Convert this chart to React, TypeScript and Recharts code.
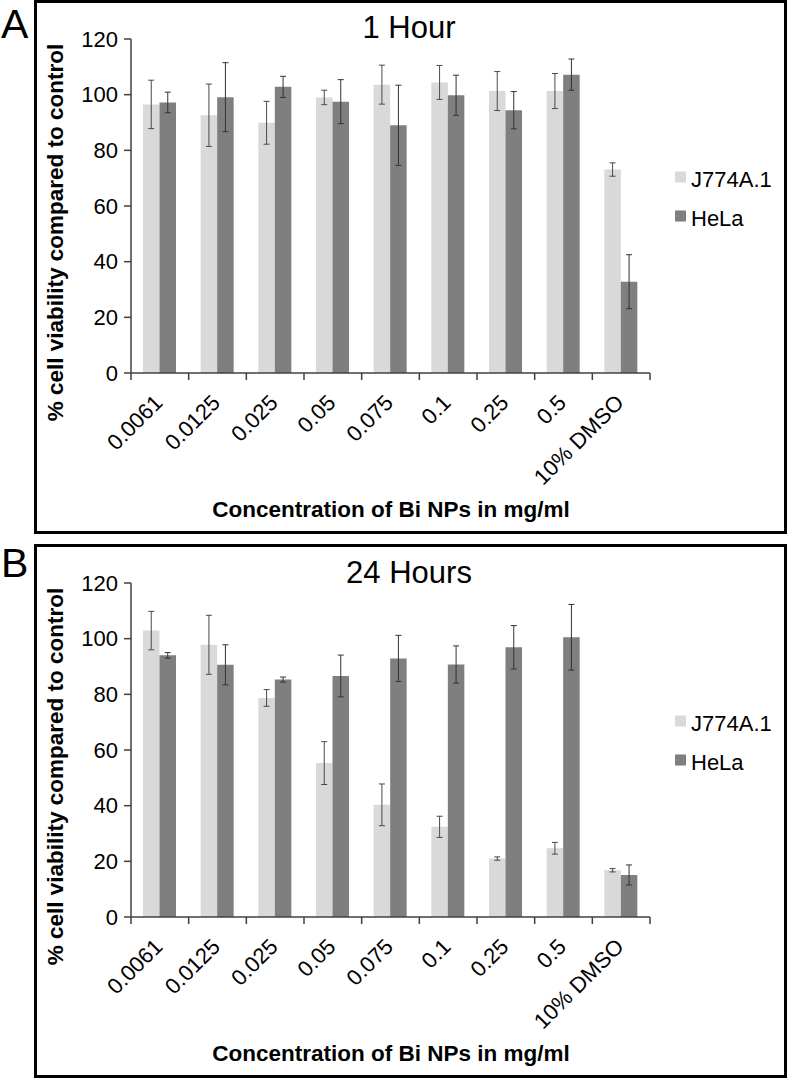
import React from 'react';
import { BarChart, Bar, XAxis, YAxis, ErrorBar } from 'recharts';

const categories = ['0.0061', '0.0125', '0.025', '0.05', '0.075', '0.1', '0.25', '0.5', '10% DMSO'];
const yTicks = [0, 20, 40, 60, 80, 100, 120];

const h1J774 = [96.5, 92.6, 89.9, 99.0, 103.6, 104.4, 101.3, 101.3, 73.1];
const h1J774Err = [8.7, 11.2, 7.7, 2.6, 7.0, 6.1, 7.0, 6.3, 2.4];
const h1HeLa = [97.2, 99.1, 102.8, 97.5, 89.0, 99.8, 94.4, 107.2, 32.8];
const h1HeLaErr = [3.7, 12.4, 3.8, 7.9, 14.4, 7.2, 6.7, 5.6, 9.7];

const h24J774 = [102.9, 97.8, 78.7, 55.3, 40.3, 32.4, 21.0, 24.7, 16.8];
const h24J774Err = [6.9, 10.6, 3.0, 7.7, 7.5, 3.8, 0.6, 2.1, 0.6];
const h24HeLa = [94.0, 90.6, 85.3, 86.6, 92.9, 90.7, 96.9, 100.5, 15.1];
const h24HeLaErr = [1.0, 7.2, 0.9, 7.5, 8.3, 6.7, 7.8, 11.8, 3.6];

const seriesNames = ['J774A.1', 'HeLa'];
const colors = ['#d9d9d9', '#7f7f7f'];

const FONT = '"Liberation Sans", Arial, Helvetica, sans-serif';
const AXIS = '#404040';
const CH_W = 791;
const CH_H = 540;
const PLOT_L = 131;
const PLOT_R = 650;
const PLOT_T = 39;
const PLOT_B = 373;
const PLOT_W = PLOT_R - PLOT_L;
const YW = 60;
const XH = 100;

const build = (a: number[], ae: number[], b: number[], be: number[]) =>
  categories.map((c, i) => ({ cat: c, j774: a[i], j774Err: ae[i], hela: b[i], helaErr: be[i] }));

const data1 = build(h1J774, h1J774Err, h1HeLa, h1HeLaErr);
const data24 = build(h24J774, h24J774Err, h24HeLa, h24HeLaErr);

const XTick = (props: any) => {
  const { x, y, payload, index } = props;
  const bw = PLOT_W / categories.length;
  const ax = x + 4;
  const ay = y + 31;
  return (
    <g>
      <line x1={x - bw / 2} y1={y} x2={x - bw / 2} y2={y + 7} stroke={AXIS} strokeWidth={1.5} />
      {index === categories.length - 1 && (
        <line x1={x + bw / 2} y1={y} x2={x + bw / 2} y2={y + 7} stroke={AXIS} strokeWidth={1.5} />
      )}
      <text
        x={ax}
        y={ay}
        transform={`rotate(-45 ${ax} ${ay})`}
        textAnchor="end"
        fontSize={22}
        fill="#000"
        fontFamily={FONT}
      >
        {payload.value}
      </text>
    </g>
  );
};

type PanelProps = {
  top: number;
  letter: string;
  letterBaseline: number;
  title: string;
  titleBaseline: number;
  data: any[];
};

const Panel = ({ top, letter, letterBaseline, title, titleBaseline, data }: PanelProps) => (
  <>
    <div
      style={{
        position: 'absolute',
        left: 34,
        top: top,
        width: 787 - 34,
        height: 534,
        border: '3px solid #000',
        boxSizing: 'border-box',
      }}
    />
    <div style={{ position: 'absolute', left: 0, top: top, width: CH_W, height: CH_H }}>
      <BarChart
        width={CH_W}
        height={CH_H}
        data={data}
        barGap={0}
        barSize={16.5}
        margin={{ top: PLOT_T, right: CH_W - PLOT_R, bottom: CH_H - PLOT_B - XH, left: PLOT_L - YW }}
      >
        <XAxis
          dataKey="cat"
          height={XH}
          interval={0}
          tickLine={false}
          tickSize={0}
          tickMargin={0}
          axisLine={{ stroke: AXIS, strokeWidth: 1.5 }}
          tick={<XTick />}
        />
        <YAxis
          width={YW}
          domain={[0, 120]}
          ticks={yTicks}
          interval={0}
          tickSize={7}
          tickMargin={6}
          axisLine={{ stroke: AXIS, strokeWidth: 1.5 }}
          tickLine={{ stroke: AXIS, strokeWidth: 1.5 }}
          tick={{ fontSize: 22, fill: '#000', fontFamily: FONT }}
        />
        <Bar dataKey="j774" name={seriesNames[0]} fill={colors[0]} isAnimationActive={false}>
          <ErrorBar dataKey="j774Err" width={3} stroke="#4a4a4a" strokeWidth={1} direction="y" isAnimationActive={false} />
        </Bar>
        <Bar dataKey="hela" name={seriesNames[1]} fill={colors[1]} isAnimationActive={false}>
          <ErrorBar dataKey="helaErr" width={3} stroke="#333" strokeWidth={1} direction="y" isAnimationActive={false} />
        </Bar>
      </BarChart>
    </div>
    <svg
      width={CH_W}
      height={CH_H}
      style={{ position: 'absolute', left: 0, top: top, pointerEvents: 'none', overflow: 'visible' }}
    >
      <text x={1} y={letterBaseline} fontSize={41} fontFamily={FONT} fill="#000">
        {letter}
      </text>
      <text x={409} y={titleBaseline} fontSize={31} fontFamily={FONT} fill="#000" textAnchor="middle">
        {title}
      </text>
      <text
        x={62.5}
        y={232.5}
        transform="rotate(-90 62.5 232.5)"
        fontSize={22.5}
        fontWeight="bold"
        fontFamily={FONT}
        fill="#000"
        textAnchor="middle"
      >
        % cell viability compared to control
      </text>
      <text x={391} y={517} fontSize={22.5} fontWeight="bold" fontFamily={FONT} fill="#000" textAnchor="middle">
        Concentration of Bi NPs in mg/ml
      </text>
      {seriesNames.map((n, i) => (
        <g key={n}>
          <rect x={675} y={171.5 + i * 39} width={11} height={11} fill={colors[i]} />
          <text x={691} y={186.5 + i * 39} fontSize={22} fontFamily={FONT} fill="#000">
            {n}
          </text>
        </g>
      ))}
    </svg>
  </>
);

export default function App() {
  return (
    <div style={{ position: 'absolute', left: 0, top: 0, width: 791, height: 1078, background: '#fff' }}>
      <Panel top={0} letter="A" letterBaseline={38} title="1 Hour" titleBaseline={38} data={data1} />
      <Panel top={544} letter="B" letterBaseline={33} title="24 Hours" titleBaseline={39} data={data24} />
    </div>
  );
}
